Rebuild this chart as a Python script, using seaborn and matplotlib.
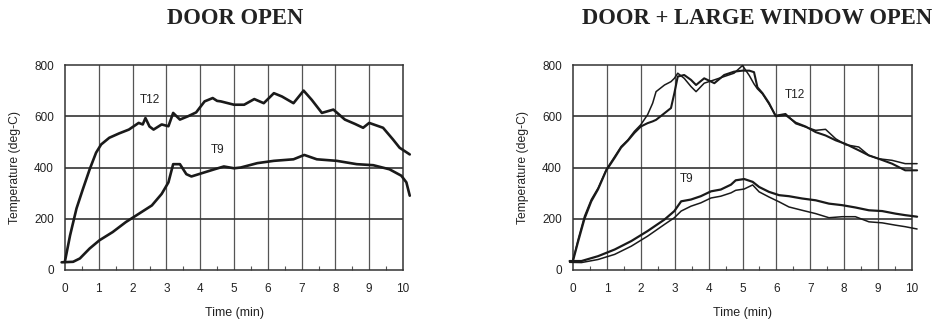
import matplotlib
matplotlib.use("Agg")
import matplotlib.pyplot as plt
import seaborn as sns
import numpy as np

# ---------------- data ----------------
panel_titles = ["DOOR OPEN", "DOOR + LARGE WINDOW OPEN"]
x_ticks = [0, 1, 2, 3, 4, 5, 6, 7, 8, 9, 10]
y_ticks = [0, 200, 400, 600, 800]

# Left panel: door open
left_t12_time = [0, 0.15, 0.34, 0.53, 0.73, 0.92, 1.07, 1.31, 1.6, 1.89, 2.18, 2.3, 2.38,
                 2.5, 2.62, 2.86, 3.06, 3.2, 3.4, 3.64, 3.88, 4.13, 4.37, 4.5, 4.61, 5.0,
                 5.3, 5.6, 5.88, 6.18, 6.42, 6.76, 7.06, 7.3, 7.6, 7.94, 8.28, 8.58, 8.82,
                 9.0, 9.41, 9.7, 9.9, 10.2]
left_t12_temp = [35, 135, 240, 316, 393, 458, 490, 516, 533, 548, 574, 568, 593,
                 560, 548, 568, 561, 613, 587, 600, 615, 658, 671, 660, 658, 645,
                 645, 667, 651, 690, 677, 651, 700, 664, 613, 626, 587, 570, 555,
                 574, 555, 510, 477, 451]

left_t9_time = [-0.1, 0.24, 0.44, 0.73, 1.02, 1.41, 1.8, 2.18, 2.57, 2.86, 3.06, 3.2, 3.4,
                3.59, 3.74, 4.03, 4.42, 4.7, 5.0, 5.2, 5.69, 6.18, 6.76, 7.08, 7.45, 8.04,
                8.63, 9.12, 9.6, 9.95, 10.1, 10.2]
left_t9_temp = [30, 32, 45, 84, 116, 148, 187, 219, 252, 297, 342, 413, 413,
                374, 365, 377, 393, 404, 397, 400, 417, 426, 432, 449, 432, 426,
                413, 409, 393, 368, 342, 290]

# Right panel: door + large window open (two tests each)
right_t12_time = [0, 0.15, 0.34, 0.54, 0.74, 0.98, 1.23, 1.42, 1.62, 1.81, 2.0, 2.2, 2.35,
                  2.45, 2.7, 2.89, 2.99, 3.09, 3.28, 3.48, 3.63, 3.87, 4.17, 4.46, 4.75,
                  5.0, 5.2, 5.34, 5.44, 5.59, 5.78, 5.98, 6.27, 6.57, 6.86, 7.16, 7.45,
                  7.75, 8.04, 8.43, 8.73, 9.02, 9.41, 9.8, 10.15]
right_t12a_temp = [40, 119, 210, 275, 320, 392, 443, 482, 508, 541, 567, 606, 651,
                   696, 722, 735, 748, 768, 748, 716, 696, 729, 742, 755, 768,
                   798, 759, 726, 707, 687, 648, 603, 610, 571, 558, 545, 549,
                   512, 489, 480, 447, 434, 428, 415, 415]
right_t12b_temp = [35, 110, 200, 268, 315, 388, 438, 478, 505, 535, 560, 573, 580,
                   586, 612, 632, 690, 755, 761, 742, 722, 748, 729, 761, 774,
                   778, 778, 772, 713, 690, 652, 600, 605, 575, 560, 538, 525,
                   506, 492, 467, 447, 434, 415, 389, 389]

right_t9_time = [-0.1, 0.25, 0.74, 1.23, 1.72, 2.2, 2.7, 2.99, 3.19, 3.48, 3.77, 4.07, 4.36,
                 4.66, 4.8, 5.05, 5.3, 5.49, 5.78, 6.08, 6.37, 6.76, 7.16, 7.55, 7.94,
                 8.33, 8.73, 9.12, 9.51, 9.8, 10.15]
right_t9c_temp = [35, 35, 54, 80, 113, 152, 197, 230, 268, 275, 288, 307, 314,
                  333, 350, 355, 344, 324, 305, 292, 288, 279, 272, 259, 253,
                  244, 233, 230, 220, 214, 208]
right_t9d_temp = [30, 29, 41, 61, 93, 132, 178, 204, 230, 249, 262, 281, 288,
                  301, 311, 316, 332, 305, 285, 266, 246, 233, 220, 204, 208,
                  208, 188, 184, 175, 169, 160]

# curve labels: (text, time, temperature)
left_labels = [("T12", 2.5, 664), ("T9", 4.5, 469)]
right_labels = [("T12", 6.55, 683), ("T9", 3.35, 354)]

# ---------------- style ----------------
sns.set_theme(style="white")
plt.rcParams["font.family"] = ["Liberation Sans", "DejaVu Sans"]

fig = plt.figure(figsize=(9.38, 3.27), dpi=100)
ax_l = fig.add_axes([65 / 938, 1 - 270 / 327, 338 / 938, 205 / 327])
ax_r = fig.add_axes([573 / 938, 1 - 270 / 327, 339 / 938, 205 / 327])

INK = "#1a1a1a"


def style_axes(ax):
    ax.set_xlim(0, 10)
    ax.set_ylim(0, 800)
    ax.set_xticks(x_ticks)
    ax.set_yticks(y_ticks)
    ax.set_xticks(np.arange(0.5, 10, 1.0), minor=True)
    ax.tick_params(axis="both", which="major", length=0, labelsize=8.5,
                   colors="#222222")
    ax.tick_params(axis="x", which="major", pad=9)
    ax.tick_params(axis="y", which="major", pad=8)
    ax.tick_params(axis="x", which="minor", direction="in", length=3,
                   width=0.8, color="#555555", bottom=True)
    for v in x_ticks[1:-1]:
        ax.axvline(v, color="#555555", lw=0.9, zorder=1)
    for v in y_ticks[1:-1]:
        ax.axhline(v, color="#333333", lw=1.2, zorder=1)
    for s in ax.spines.values():
        s.set_color("#333333")
        s.set_linewidth(1.1)
        s.set_visible(True)
    ax.set_xlabel("Time (min)", fontsize=9, color="#222222")
    ax.set_ylabel("Temperature (deg-C)", fontsize=8.7, color="#222222")
    ax.xaxis.set_label_coords(0.5, -0.21)
    ax.xaxis.label.set_va("center")
    ax.yaxis.set_label_coords(-0.148, 0.5)
    ax.yaxis.label.set_va("center")


# left panel
sns.lineplot(x=left_t12_time, y=left_t12_temp, ax=ax_l, color=INK, lw=1.9,
             clip_on=False, zorder=3)
sns.lineplot(x=left_t9_time, y=left_t9_temp, ax=ax_l, color=INK, lw=1.9,
             clip_on=False, zorder=3)

# right panel
sns.lineplot(x=right_t12_time, y=right_t12a_temp, ax=ax_r, color=INK, lw=1.1,
             clip_on=False, zorder=3)
sns.lineplot(x=right_t12_time, y=right_t12b_temp, ax=ax_r, color=INK, lw=1.5,
             clip_on=False, zorder=3)
sns.lineplot(x=right_t9_time, y=right_t9c_temp, ax=ax_r, color=INK, lw=1.6,
             clip_on=False, zorder=3)
sns.lineplot(x=right_t9_time, y=right_t9d_temp, ax=ax_r, color=INK, lw=1.1,
             clip_on=False, zorder=3)

for ax, labels in ((ax_l, left_labels), (ax_r, right_labels)):
    style_axes(ax)
    for txt, tx, ty in labels:
        ax.text(tx, ty, txt, fontsize=8.5, color="#222222", ha="center",
                va="center", zorder=4)

fig.text(235 / 938, 1 - 18 / 327, panel_titles[0], ha="center", va="center",
         fontsize=16.3, fontweight="bold", family="Liberation Serif", color="#222222")
fig.text(757 / 938, 1 - 18 / 327, panel_titles[1], ha="center", va="center",
         fontsize=16.3, fontweight="bold", family="Liberation Serif", color="#222222")

fig.savefig("out.png", dpi=100, facecolor="white")
